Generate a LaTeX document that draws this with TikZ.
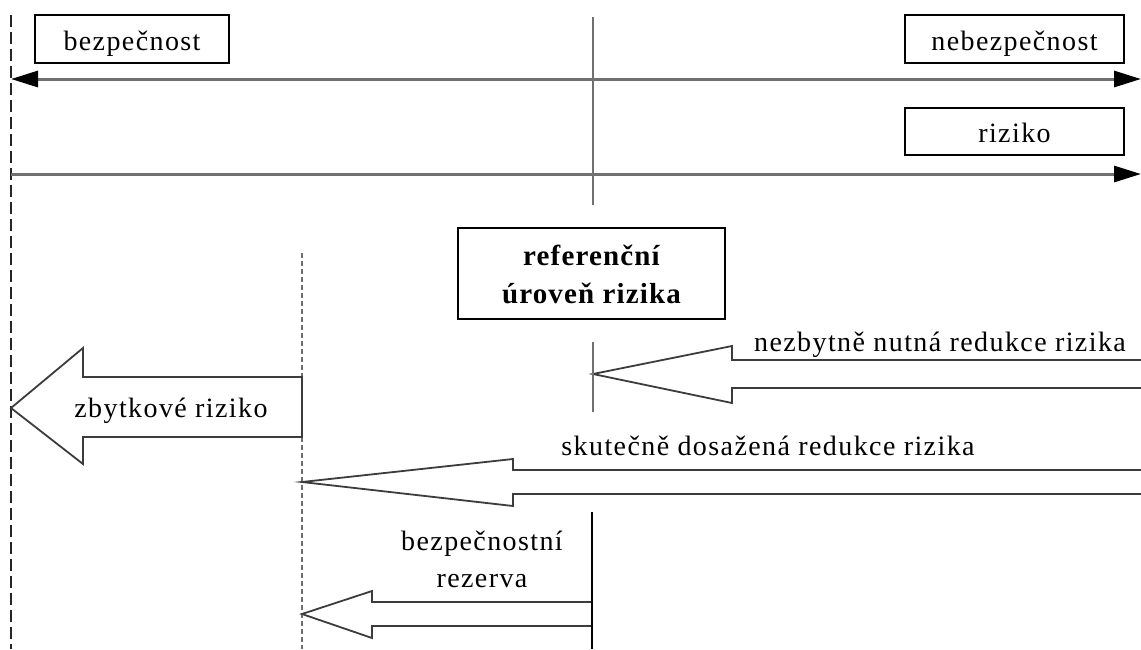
\documentclass[tikz,border=0pt]{standalone}
\usepackage{fontspec}
\setmainfont{Liberation Serif}
\usetikzlibrary{arrows.meta}
\definecolor{axisgray}{RGB}{112,112,112}
\definecolor{edgegray}{RGB}{60,60,60}
\begin{document}
\begin{tikzpicture}[x=1pt,y=-1pt,
  txt/.style={font=\fontsize{28}{32}\selectfont\addfontfeature{LetterSpace=5},
              inner sep=0pt, anchor=base},
  boldtxt/.style={font=\fontsize{29}{33}\selectfont\bfseries\addfontfeature{LetterSpace=4},
              inner sep=0pt, anchor=base},
  framebox/.style={draw=black, line width=1.6pt, fill=white, inner sep=0pt},
  axis/.style={draw=axisgray, line width=3pt},
  tipend/.style={-{Triangle[length=27pt,width=16pt,color=black]}},
  blockarrow/.style={draw=edgegray, line width=1.8pt, fill=white, line join=miter},
  marker/.style={draw=axisgray, line width=2.2pt},
]
\useasboundingbox (0,0) rectangle (1141,649);

% boundary lines
\coordinate (safeTop) at (11,15);
\coordinate (safeBot) at (11,649);
\draw[black!85, line width=1.8pt, dash pattern=on 12pt off 5pt] (safeTop) -- (safeBot);
\coordinate (resTop) at (302,253);
\coordinate (resBot) at (302,649);
\draw[axisgray, line width=2.6pt, dash pattern=on 5pt off 3pt] (resTop) -- (resBot);

% reference level marker through the two axes
\coordinate (refTop) at (593,17);
\coordinate (refBot) at (593,205);
\draw[marker] (refTop) -- (refBot);

% axis labels
\node[framebox, minimum width=194pt, minimum height=48pt] (bBox) at (132,39) {};
\node[txt] (bTxt) at (132,50) {bezpečnost};
\node[framebox, minimum width=219pt, minimum height=48pt] (nBox) at (1014.5,39) {};
\node[txt] (nTxt) at (1014.5,50) {nebezpečnost};
\node[framebox, minimum width=219pt, minimum height=47pt] (rBox) at (1014.5,131.5) {};
\node[txt] (rTxt) at (1014.5,142) {riziko};

% axes
\coordinate (a1L) at (11,79);
\coordinate (a1R) at (1141,79);
\draw[axis, {Triangle[length=27pt,width=16pt,color=black]}-{Triangle[length=27pt,width=16pt,color=black]}] (a1L) -- (a1R);
\coordinate (a2L) at (11,174);
\coordinate (a2R) at (1141,174);
\draw[axis, tipend] (a2L) -- (a2R);

% reference level box
\node[framebox, minimum width=267pt, minimum height=91pt] (refBox) at (591.5,273.5) {};
\node[boldtxt] (refT1) at (591.5,265) {referenční};
\node[boldtxt] (refT2) at (591.5,303) {úroveň rizika};

% necessary reduction
\draw[blockarrow] (1141,360) -- (732,360) -- (732,346) -- (593,374)
  -- (732,403) -- (732,388) -- (1141,388);
\coordinate (m1Top) at (593,342);
\coordinate (m1Bot) at (593,412);
\draw[marker] (m1Top) -- (m1Bot);
\node[txt] (needTxt) at (940,351) {nezbytně nutná redukce rizika};

% residual risk
\draw[blockarrow] (302,377) -- (83,377) -- (83,348) -- (11,408)
  -- (83,464) -- (83,437) -- (302,437) -- cycle;
\node[txt] (resTxt) at (171,417) {zbytkové riziko};

% achieved reduction
\draw[blockarrow] (1141,470) -- (513,470) -- (513,459) -- (302,482)
  -- (513,506) -- (513,494) -- (1141,494);
\node[txt] (achTxt) at (768,455) {skutečně dosažená redukce rizika};

% safety margin
\coordinate (m2Top) at (592,512);
\coordinate (m2Bot) at (592,649);
\draw[blockarrow] (592,602) -- (372,602) -- (372,591) -- (302,614)
  -- (372,638) -- (372,626) -- (592,626);
\draw[black, line width=1.8pt] (m2Top) -- (m2Bot);
\node[txt] (marT1) at (482,550) {bezpečnostní};
\node[txt] (marT2) at (482,587) {rezerva};
\end{tikzpicture}
\end{document}
